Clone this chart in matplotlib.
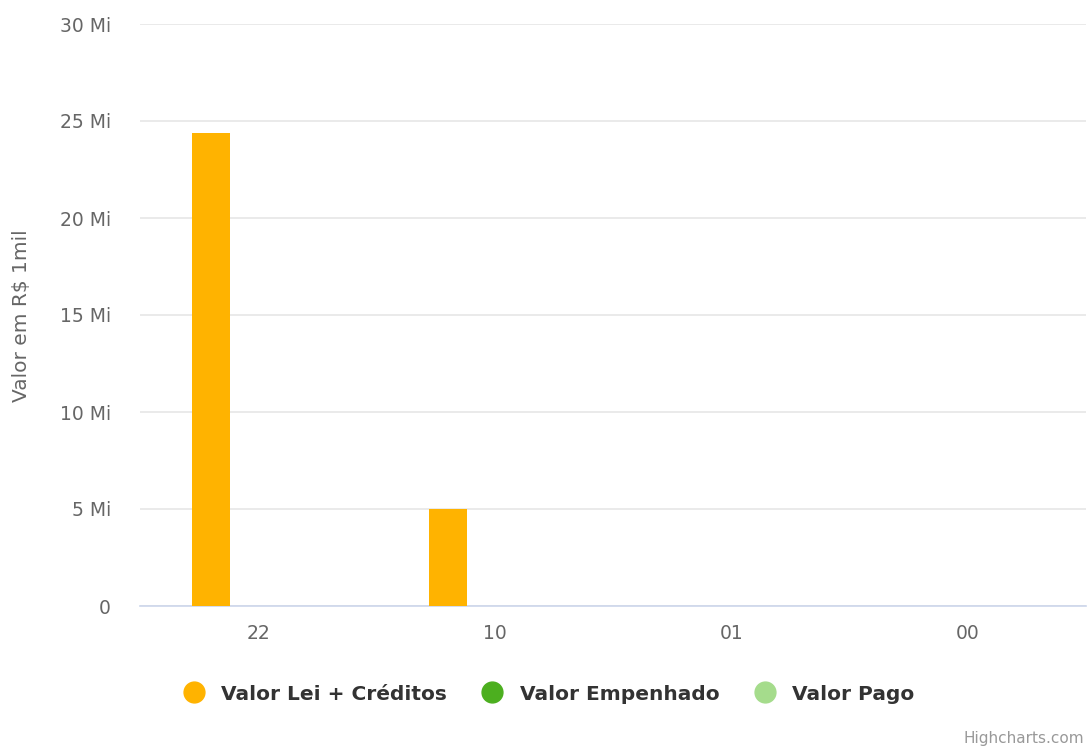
import numpy as np
import matplotlib.pyplot as plt
from matplotlib.ticker import FuncFormatter
from matplotlib.lines import Line2D

# categories and series (values in millions)
categories = ['22', '10', '01', '00']
valor_lei = [24.4, 5.0, 0, 0]
valor_empenhado = [0, 0, 0, 0]
valor_pago = [0, 0, 0, 0]

series_names = ['Valor Lei + Créditos', 'Valor Empenhado', 'Valor Pago']
series_colors = ['#ffb300', '#4caf1f', '#a5dc8c']
y_ticks = [0, 5, 10, 15, 20, 25, 30]

plt.rcParams['font.family'] = ['DejaVu Sans']

W, H = 1088, 746
fig = plt.figure(figsize=(W / 100, H / 100), dpi=100)
left, right, top, bottom = 140, 1086, 24, 606
ax = fig.add_axes([left / W, 1 - bottom / H, (right - left) / W, (bottom - top) / H])

x = np.arange(len(categories))
bar_w = 0.161
offset = 0.199
all_series = [valor_lei, valor_empenhado, valor_pago]
for i, (vals, color) in enumerate(zip(all_series, series_colors)):
    ax.bar(x + (i - 1) * offset, vals, width=bar_w, color=color, zorder=3, linewidth=0)

ax.set_xlim(-0.5, len(categories) - 0.5)
ax.set_ylim(0, 30)
ax.set_yticks(y_ticks)
ax.yaxis.set_major_formatter(FuncFormatter(lambda v, p: '0' if v == 0 else f'{int(v)} Mi'))
ax.set_xticks(x)
ax.set_xticklabels(categories)

ax.grid(axis='y', color='#e6e6e6', linewidth=1.2, zorder=0)
for s in ['top', 'right', 'left']:
    ax.spines[s].set_visible(False)
ax.spines['bottom'].set_color('#ccd6eb')
ax.spines['bottom'].set_linewidth(1.2)
ax.tick_params(axis='both', length=0, labelsize=13.5, labelcolor='#666666')
ax.tick_params(axis='y', pad=21)
ax.tick_params(axis='x', pad=13)

fig.text(22 / W, 1 - 316 / H, 'Valor em R\\$ 1mil', rotation=90, ha='center', va='center',
         fontsize=14.5, color='#666666')

# legend
handles = [Line2D([0], [0], marker='o', linestyle='', markersize=15,
                  markerfacecolor=c, markeredgecolor=c) for c in series_colors]
leg = fig.legend(handles, series_names, loc='center', bbox_to_anchor=(544 / W, 1 - 694 / H),
                 ncol=3, frameon=False, handletextpad=0.35, columnspacing=1.25,
                 prop={'weight': 'bold', 'size': 14.5})
for t in leg.get_texts():
    t.set_color('#333333')

fig.text(1084 / W, 1 - 738 / H, 'Highcharts.com', ha='right', va='center',
         fontsize=11, color='#999999')

fig.savefig('out.png', dpi=100)
